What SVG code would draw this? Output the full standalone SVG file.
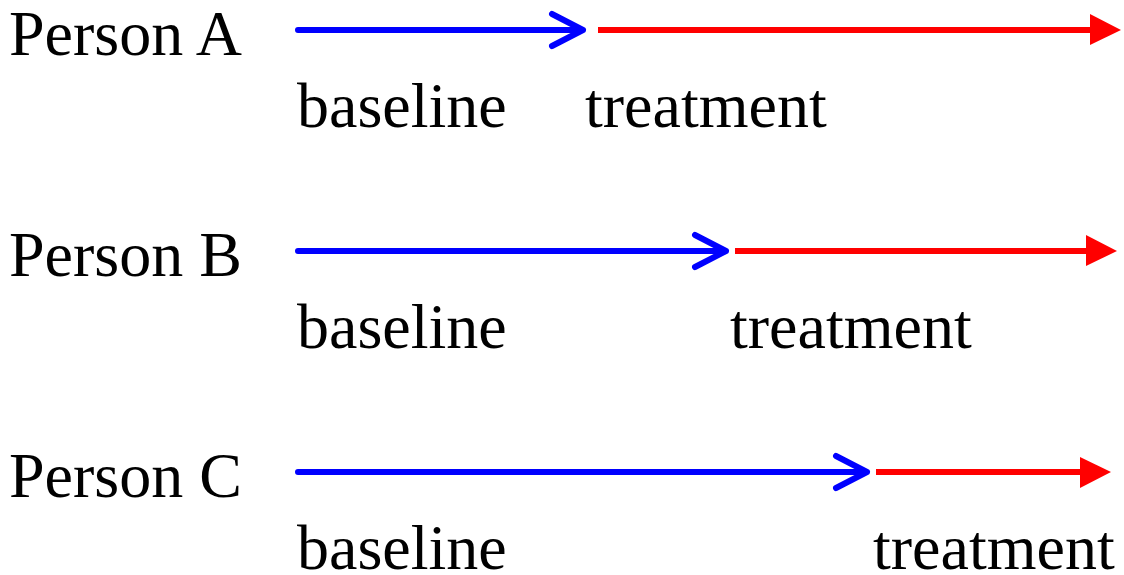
<svg xmlns="http://www.w3.org/2000/svg" width="1124" height="575" viewBox="0 0 1124 575">
<style>
text{font-family:"Liberation Serif","Times New Roman",serif;font-size:64px;fill:#000}
.b{stroke:#0000ff;stroke-width:6;fill:none;stroke-linecap:round;stroke-linejoin:round}
.r{stroke:#ff0000;stroke-width:6;fill:none}
.h{fill:#ff0000}
</style>
<rect width="1124" height="575" fill="#fff"/>
<g id="personA">
<text x="9" y="55">Person A</text>
<text x="297" y="127">baseline</text>
<text x="585" y="127">treatment</text>
</g>
<g id="personB">
<text x="9" y="276">Person B</text>
<text x="297" y="348">baseline</text>
<text x="730" y="348">treatment</text>
</g>
<g id="personC">
<text x="9" y="497">Person C</text>
<text x="297" y="569">baseline</text>
<text x="873" y="569">treatment</text>
</g>
<g id="connectors">
<path class="b" d="M298,30H583M552,14L583,30L552,46"/>
<path class="r" d="M598,30H1092"/>
<path class="h" d="M1090,14L1121,30L1090,45Z"/>
<path class="b" d="M298,251H726M695,235L726,251L695,267"/>
<path class="r" d="M735,251H1088"/>
<path class="h" d="M1086,235L1117,251L1086,266Z"/>
<path class="b" d="M298,472H867M836,456L867,472L836,488"/>
<path class="r" d="M876,472H1082"/>
<path class="h" d="M1080,457L1111,472L1080,488Z"/>
</g>
</svg>
